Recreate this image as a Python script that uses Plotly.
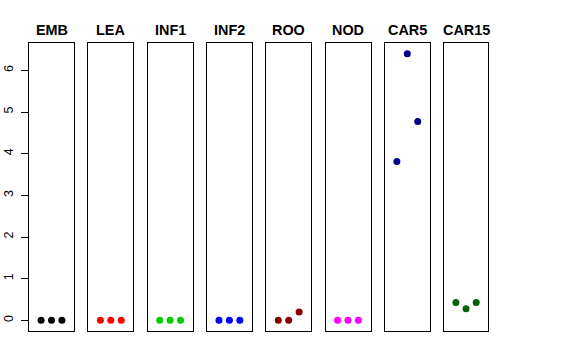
import plotly.graph_objects as go

tissues = ["EMB", "LEA", "INF1", "INF2", "ROO", "NOD", "CAR5", "CAR15"]
replicate = [1, 2, 3]
values = {
    "EMB": [0.0, 0.0, 0.0],
    "LEA": [0.0, 0.0, 0.0],
    "INF1": [0.0, 0.0, 0.0],
    "INF2": [0.0, 0.0, 0.0],
    "ROO": [0.0, 0.0, 0.2],
    "NOD": [0.0, 0.0, 0.0],
    "CAR5": [3.81, 6.40, 4.77],
    "CAR15": [0.43, 0.28, 0.43],
}
colors = ["#000000", "#FF0000", "#00CD00", "#0000FF", "#8B0000", "#FF00FF", "#00008B", "#006400"]
y_ticks = [0, 1, 2, 3, 4, 5, 6]

W, H = 576, 360
left, right, top, bottom = 29, 488, 43, 331
pw = right - left
panel_w = 45.0
pitch = 59.3

fig = go.Figure()
layout = dict(
    width=W, height=H,
    margin=dict(l=left, r=W - right, t=top, b=H - bottom, autoexpand=False),
    paper_bgcolor="white", plot_bgcolor="white",
    showlegend=False,
    font=dict(family="Liberation Sans, Arial, Helvetica, sans-serif", color="black"),
)
annotations = []
ph = bottom - top
for i, t in enumerate(tissues):
    idx = "" if i == 0 else str(i + 1)
    d0 = (i * pitch) / pw
    d1 = min(1.0, d0 + panel_w / pw)
    fig.add_trace(go.Scatter(
        x=replicate, y=values[t], mode="markers",
        marker=dict(color=colors[i], size=7),
        xaxis="x" + idx, yaxis="y" + idx, hoverinfo="skip",
    ))
    layout["xaxis" + idx] = dict(
        domain=[d0, d1], range=[-0.16, 4.16], showgrid=False, zeroline=False,
        showticklabels=False, ticks="", showline=True, mirror=True,
        linecolor="black", linewidth=1, anchor="y" + idx, fixedrange=True,
        automargin=False,
    )
    ya = dict(
        range=[-0.256, 6.656], showgrid=False, zeroline=False,
        showline=True, mirror=True, linecolor="black", linewidth=1,
        anchor="x" + idx, fixedrange=True, automargin=False,
    )
    if i == 0:
        ya.update(tickmode="array", tickvals=y_ticks, ticktext=[str(v) for v in y_ticks],
                  ticks="outside", ticklen=7, tickcolor="black", tickangle=-90,
                  ticklabelstandoff=3,
                  tickfont=dict(size=12.5, color="black"))
    else:
        ya.update(showticklabels=False, ticks="", matches="y")
    layout["yaxis" + idx] = ya
    annotations.append(dict(
        text="<b>%s</b>" % t, x=(d0 + d1) / 2, xref="paper",
        y=(bottom - 30) / ph, yref="paper", showarrow=False,
        font=dict(size=14.4, color="black"), xanchor="center", yanchor="middle",
    ))
layout["annotations"] = annotations
fig.update_layout(**layout)
fig.write_html("out.html", config={"displayModeBar": False},
               post_script="document.body.style.margin='0';document.body.style.overflow='hidden';")
